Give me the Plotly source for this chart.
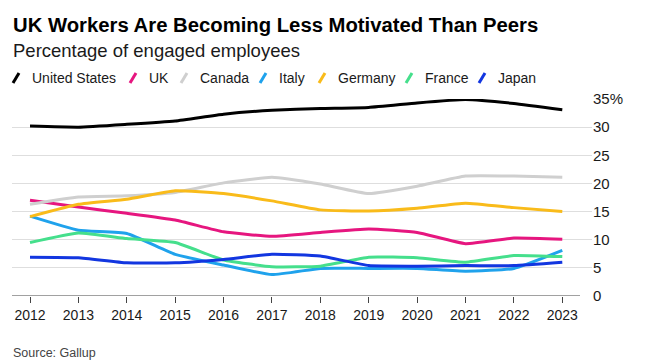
import plotly.graph_objects as go

years = list(range(2012, 2024))
series_names = ["United States", "UK", "Canada", "Italy", "Germany", "France", "Japan"]
us = [30.2, 30.0, 30.5, 31.1, 32.3, 33.0, 33.3, 33.5, 34.3, 34.9, 34.2, 33.1]
uk = [17.0, 15.8, 14.7, 13.5, 11.4, 10.6, 11.3, 11.9, 11.3, 9.3, 10.3, 10.1]
canada = [16.3, 17.6, 17.8, 18.4, 20.1, 21.1, 19.9, 18.2, 19.5, 21.3, 21.3, 21.1]
italy = [14.2, 11.7, 11.1, 7.4, 5.5, 3.8, 4.9, 4.9, 4.9, 4.4, 4.9, 8.1]
germany = [14.1, 16.3, 17.2, 18.7, 18.2, 16.9, 15.3, 15.1, 15.6, 16.5, 15.7, 15.0]
france = [9.5, 11.2, 10.2, 9.5, 6.4, 5.2, 5.3, 6.9, 6.8, 6.0, 7.2, 7.0]
japan = [6.9, 6.8, 5.9, 5.9, 6.5, 7.4, 7.1, 5.4, 5.3, 5.4, 5.4, 6.0]
values = [us, uk, canada, italy, germany, france, japan]
colors = ["#000000", "#e6167f", "#cfcfcf", "#1fa2ec", "#f9bb1a", "#45df8c", "#1236e0"]
y_ticks = [0, 5, 10, 15, 20, 25, 30, 35]
y_tick_text = ["0", "5", "10", "15", "20", "25", "30", "35%"]

W, H = 648, 360
L, R, T, B = 12, 56, 99, 64
PW, PH = W - L - R, H - T - B


def px_x(px):
    return (px - L) / PW


def px_y(py):
    return (H - B - py) / PH


FONT = "Liberation Sans, Arial, sans-serif"

fig = go.Figure()
for name, vals, col in zip(series_names, values, colors):
    fig.add_trace(go.Scatter(
        x=years, y=vals, name=name, mode="lines",
        line=dict(color=col, width=3, shape="spline", smoothing=0.4),
        showlegend=False, hoverinfo="skip", cliponaxis=False,
    ))

annotations = [
    dict(text="<b>UK Workers Are Becoming Less Motivated Than Peers</b>",
         x=px_x(11), y=px_y(25), font=dict(size=20.3, color="#000000")),
    dict(text="Percentage of engaged employees",
         x=px_x(11), y=px_y(51), font=dict(size=18.5, color="#1a1a1a")),
    dict(text="Source: Gallup",
         x=px_x(11), y=px_y(353), font=dict(size=12.5, color="#444444")),
]

shapes = []
slash_left = [13, 130, 181, 260, 319, 406, 479]
leg_y = 78
for name, col, sx in zip(series_names, colors, slash_left):
    shapes.append(dict(type="line", xref="paper", yref="paper",
                       x0=px_x(sx), y0=px_y(leg_y + 5), x1=px_x(sx + 6), y1=px_y(leg_y - 5),
                       line=dict(color=col, width=3)))
    annotations.append(dict(text=name, x=px_x(sx + 17), y=px_y(leg_y),
                            font=dict(size=14, color="#1a1a1a")))

for a in annotations:
    a.update(xref="paper", yref="paper", xanchor="left", yanchor="middle",
             showarrow=False, align="left")

# bottom axis line
shapes.append(dict(type="line", xref="paper", yref="y", x0=0, x1=px_x(580), y0=0, y1=0,
                   line=dict(color="#444444", width=1.2)))

fig.update_layout(
    width=W, height=H,
    margin=dict(l=L, r=R, t=T, b=B, pad=0),
    paper_bgcolor="white", plot_bgcolor="white",
    font=dict(family=FONT, color="#1a1a1a"),
    annotations=annotations, shapes=shapes,
    xaxis=dict(
        range=[2011.628, 2023.614], tickmode="array", tickvals=years,
        ticktext=[str(y) for y in years],
        ticks="outside", ticklen=6, tickcolor="#444444", tickwidth=1,
        showgrid=False, zeroline=False, showline=False,
        tickfont=dict(size=14, color="#1a1a1a"), fixedrange=True,
    ),
    yaxis=dict(
        range=[0, 35], side="right", tickmode="array", tickvals=y_ticks,
        ticktext=y_tick_text, showgrid=True, gridcolor="#dedede", gridwidth=1,
        zeroline=False, showline=False, ticks="",
        tickfont=dict(size=15, color="#1a1a1a"), fixedrange=True,
    ),
    showlegend=False,
)

fig.write_html("out.html", config={"displayModeBar": False, "staticPlot": True},
               post_script="document.body.style.margin='0';")
